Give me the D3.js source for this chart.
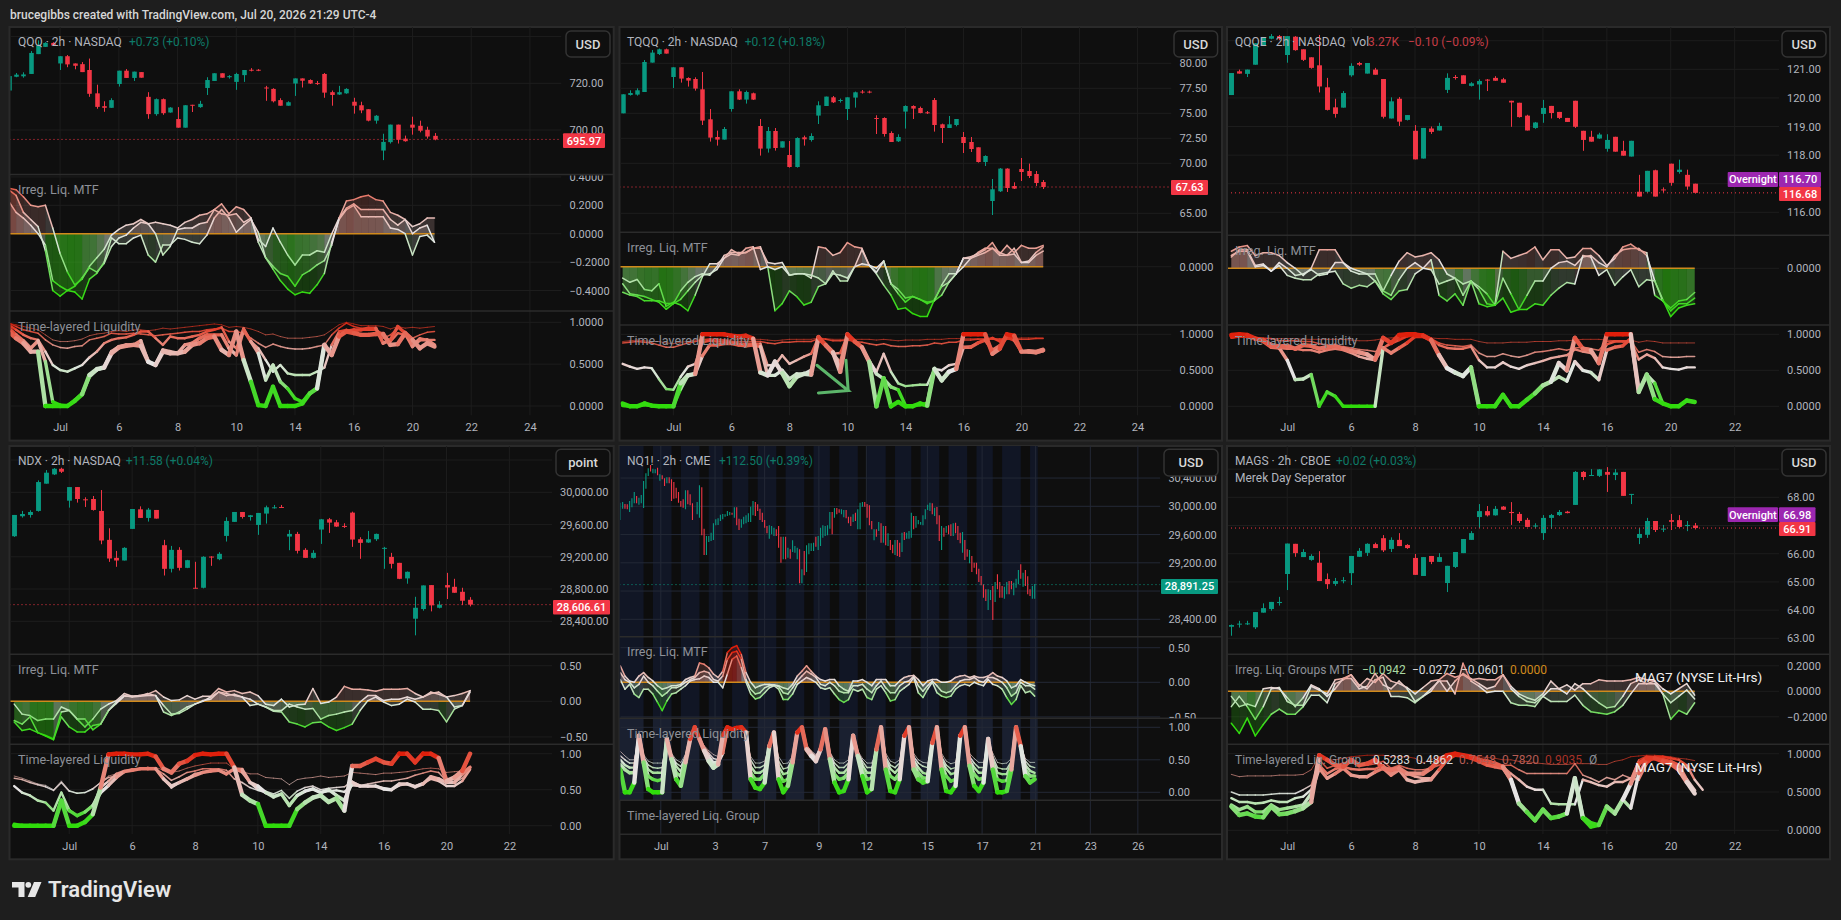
<!DOCTYPE html>
<html><head><meta charset="utf-8">
<style>html,body{margin:0;background:#1e1e1e;overflow:hidden}svg{display:block}text{font-family:Roboto,"Liberation Sans",sans-serif}</style>
<script src="https://cdn.jsdelivr.net/npm/d3@7"></script></head><body><svg id="c" width="1841" height="920"></svg>
<script>
// OHLC rows [open, high, low, close]
const qqqBars=[[716.9,723.1,716.9,723.1],[722.8,724.4,722.6,723.7],[723,724.7,722.4,723.8],[724,733.8,724,733],[732.5,738.4,732.5,736.2],[735.6,737.6,735.6,737.3],[737.3,737.6,736.2,736.2],[728.5,731.6,725.7,731.6],[731.6,732.1,726.9,728.1],[728.5,728.5,726,727.5],[728.2,729.1,724.8,724.8],[725.7,730.6,714.2,715.5],[715.7,719.4,709.1,709.9],[710.2,712.3,707.8,709.5],[709.5,713.6,709.5,712.8],[719.7,725.4,718.6,725.4],[725.4,726.1,722.3,722.3],[722.3,725,721,725],[724.8,724.8,722.4,722.4],[714.2,716.2,704.8,706.8],[706.8,713.5,706.1,713.2],[713.2,713.5,706.5,707.2],[707.5,709.8,707.4,709.6],[704.7,709.8,701,701],[701,710.6,701,710.6],[710.8,710.8,707.7,710.6],[709.8,712.5,709.5,711.2],[718,722.6,715,721.4],[721,724.3,721,724.3],[724.3,724.3,722.4,722.4],[722.6,723.5,722,723.1],[720.6,724.5,717.2,724],[723.5,725.7,720.6,725.7],[725.8,726.5,725.1,725.4],[725.8,726.1,725.2,725.4],[718.2,718.9,712.5,717.9],[717.6,717.9,711.8,712.3],[712.8,713.6,710.4,710.4],[710.4,712.3,710.4,711.9],[719.9,722.1,714.6,722.1],[722.1,722.1,718.2,721.1],[721.4,721.7,719.7,719.9],[720.1,721,719.3,719.9],[724,724.4,713.8,716],[716.2,716.9,710.4,715],[715.2,718.9,715,716.2],[715.7,717.9,715.5,717.6],[712.1,713.8,707,710.4],[710.6,712.1,707.2,708.4],[708.9,708.9,703.7,704],[704,706.4,702.7,706.1],[691.2,698.4,687.1,694.9],[694.8,702.3,694.2,702.3],[702.3,702.3,694.2,695.8],[696.3,697.6,695,695.2],[702.3,705.7,698,701],[701.8,704,699,699.7],[700.1,701.4,696.3,697.2],[697.5,698.7,695.6,695.97]];
const tqqqBars=[[75,76.9,75,76.9],[76.83,77.3,76.77,77.03],[76.87,77.5,76.77,77.3],[77.13,80.33,77.13,80.13],[80.07,81.33,80.07,81.07],[80.93,81.47,80.83,81.4],[81.4,81.47,80.97,80.97],[78.63,79.6,77.53,79.6],[79.6,79.6,78.07,78.47],[78.53,78.6,77.67,78.27],[78.43,78.6,77.27,77.47],[77.4,79.13,73.83,74.27],[74.4,75.43,72.17,72.57],[72.63,73.27,71.77,72.37],[72.37,73.63,72.37,73.43],[75.43,77.2,75.17,77.2],[77.2,77.4,76.33,76.37],[76.37,77.27,75.97,77.13],[77,77.07,76.33,76.37],[73.73,74.43,70.77,71.47],[71.47,73.63,71.07,73.23],[73.23,73.53,71.27,71.53],[71.57,72.2,71.57,72.2],[70.83,72.23,69.57,69.63],[69.63,72.6,69.57,72.53],[72.6,72.77,71.77,72.4],[72.33,73,72.17,72.73],[74.77,76.2,73.93,75.8],[75.73,76.67,75.73,76.67],[76.6,76.73,76.03,76.1],[76.23,76.47,76.07,76.33],[75.43,76.6,74.33,76.6],[76.57,77.17,75.57,77.1],[77.17,77.33,76.97,77.07],[77.17,77.27,77,77.1],[74.53,74.8,72.93,74.47],[74.53,74.6,72.67,72.93],[73.03,73.2,72.13,72.13],[72.2,72.9,72.13,72.63],[75.17,75.8,73.47,75.73],[75.73,75.8,74.43,75.47],[75.53,75.67,75,75.03],[75.1,75.23,74.93,75.03],[76.33,76.53,73.17,73.83],[73.9,73.97,72.03,73.53],[73.53,74.73,73.53,73.9],[73.83,74.43,73.7,74.43],[72.63,73.13,71.03,72.03],[72.13,72.63,71.13,71.43],[71.6,71.6,70.07,70.13],[70.13,70.8,69.73,70.73],[66.23,68.43,64.83,67.4],[67.2,69.53,67.13,69.47],[69.47,69.5,67.13,67.53],[67.73,68.1,67.43,67.47],[69.43,70.53,68.23,69.13],[69.23,69.97,68.53,68.73],[68.93,69.23,67.73,68.03],[68.13,68.33,67.43,67.63]];
const qqqeBars=[[120.1,120.87,120.1,120.87],[120.93,120.99,120.85,120.85],[120.84,120.99,120.73,120.99],[121.16,121.91,121.16,121.91],[121.84,122.12,121.84,122.12],[122.07,122.23,122.05,122.16],[122.16,122.2,122.02,122.08],[121.5,122.16,121.23,122.16],[122.14,122.16,121.65,121.67],[121.7,121.7,121.29,121.33],[121.42,121.42,121.02,121.05],[121.14,122.2,120.19,120.4],[120.37,120.7,119.56,119.58],[119.67,119.97,119.31,119.44],[119.66,120.24,119.66,120.17],[120.79,121.21,120.74,121.12],[121.22,121.26,121.12,121.16],[120.85,121.22,120.85,121.22],[120.99,121.05,120.81,120.81],[120.66,120.66,119.28,119.34],[119.28,120.02,119.28,119.88],[119.97,120.03,119.02,119.17],[119.23,119.4,119.21,119.4],[118.85,119.05,117.85,117.85],[117.88,118.95,117.88,118.95],[118.93,119,118.74,118.81],[118.86,119.13,118.86,119.02],[120.28,120.86,120.17,120.7],[120.73,120.8,120.64,120.7],[120.79,120.79,120.49,120.49],[120.42,120.55,120.4,120.51],[120.47,120.65,119.94,120.59],[120.64,120.66,120.24,120.62],[120.7,120.76,120.6,120.6],[120.65,120.7,120.53,120.53],[119.9,119.9,118.99,119.84],[119.83,119.83,119.31,119.33],[119.38,119.41,118.86,118.86],[118.95,119.16,118.92,119.14],[119.44,119.93,119.13,119.65],[119.72,119.72,119.28,119.47],[119.51,119.51,119.26,119.3],[119.3,119.3,119.16,119.16],[119.9,119.9,118.95,118.99],[118.85,118.85,118.15,118.53],[118.64,118.85,118.47,118.47],[118.58,118.78,118.57,118.72],[118.22,118.73,118.12,118.53],[118.64,118.64,118.12,118.12],[118.15,118.5,117.98,117.98],[117.95,118.5,117.95,118.5],[116.72,117.31,116.55,116.55],[116.72,117.45,116.69,117.45],[117.47,117.49,116.55,116.55],[116.8,116.87,116.69,116.78],[117.7,117.7,116.93,117.03],[117.41,117.84,117.35,117.49],[117.31,117.49,116.79,116.9],[117,117,116.66,116.68]];
const ndxBars=[[29455,29719,29447,29719],[29703,29769,29686,29731],[29719,29777,29686,29756],[29769,30148,29760,30127],[30107,30276,30107,30243],[30222,30301,30214,30292],[30292,30305,30239,30255],[29896,30065,29810,30065],[30065,30065,29872,29917],[29913,29938,29818,29909],[29917,29954,29773,29781],[29769,30028,29356,29402],[29410,29554,29137,29179],[29187,29273,29076,29154],[29154,29319,29154,29311],[29546,29793,29546,29793],[29789,29826,29682,29682],[29682,29806,29637,29785],[29781,29781,29674,29674],[29344,29410,28968,29051],[29051,29335,29006,29286],[29286,29319,29030,29063],[29063,29162,29059,29158],[28816,29138,28808,28813],[28816,29207,28808,29200],[29203,29207,29088,29191],[29170,29257,29158,29237],[29459,29690,29389,29645],[29633,29756,29633,29756],[29756,29756,29674,29694],[29694,29719,29649,29715],[29595,29744,29472,29744],[29736,29835,29612,29814],[29814,29843,29798,29814],[29818,29843,29806,29810],[29451,29533,29282,29484],[29484,29509,29241,29274],[29286,29307,29187,29187],[29187,29282,29179,29249],[29538,29670,29360,29665],[29665,29682,29496,29624],[29628,29657,29570,29575],[29583,29616,29558,29575],[29748,29760,29323,29414],[29418,29443,29175,29373],[29377,29521,29372,29418],[29418,29488,29397,29484],[29311,29323,29051,29311],[29199,29249,29055,29113],[29125,29125,28923,28927],[28932,29018,28866,29014],[28432,28704,28226,28568],[28552,28845,28532,28845],[28849,28849,28523,28598],[28568,28651,28560,28606],[28849,29001,28676,28820],[28828,28927,28754,28754],[28766,28816,28601,28655],[28667,28700,28585,28606.61]];
const magsBars=[[63.41,63.49,63.09,63.47],[63.49,63.62,63.38,63.52],[63.51,63.62,63.47,63.53],[63.39,63.93,63.33,63.93],[63.91,64.24,63.91,64.07],[64.04,64.29,63.98,64.29],[64.25,64.47,64.16,64.29],[65.28,66.36,64.71,66.36],[66.35,66.35,65.89,66.02],[65.88,66.16,65.88,66.06],[65.78,65.98,65.75,65.92],[65.68,66.09,65.03,65.03],[65.1,65.3,64.75,64.92],[64.93,65.14,64.86,65.03],[65.04,65.17,64.95,65.06],[65.31,65.92,64.89,65.92],[65.89,66.2,65.89,66.1],[66.03,66.37,65.92,66.35],[66.34,66.39,66.2,66.2],[66.55,66.66,66.06,66.12],[66.17,66.58,66.06,66.49],[66.49,66.73,66.27,66.27],[66.31,66.34,66.17,66.2],[65.85,65.99,65.25,65.25],[65.21,65.88,65.21,65.88],[65.92,65.92,65.63,65.71],[65.71,66.02,65.71,65.88],[64.96,65.57,64.64,65.57],[65.53,66.06,65.49,66.06],[66.02,66.52,66.02,66.52],[66.49,66.8,66.49,66.73],[67.3,67.76,66.9,67.51],[67.51,67.69,67.32,67.36],[67.36,67.69,67.35,67.59],[67.67,67.69,67.55,67.56],[67.48,67.83,67.02,67.44],[67.41,67.48,67.09,67.16],[67.2,67.27,66.95,66.95],[66.98,67.08,66.9,67],[66.73,67.37,66.49,67.27],[67.27,67.41,66.88,67.37],[67.37,67.55,67.34,67.48],[67.49,67.52,67.43,67.44],[67.73,68.93,67.73,68.9],[68.9,68.93,68.61,68.72],[68.77,69,68.76,68.79],[68.76,69,68.72,68.99],[68.9,69.07,68.19,68.8],[68.79,69,68.61,68.88],[68.9,68.9,68.05,68.05],[68.09,68.12,67.76,68.12],[66.56,66.91,66.34,66.7],[66.67,67.27,66.56,67.16],[67.16,67.16,66.77,66.84],[66.87,67.02,66.77,66.89],[67.19,67.41,66.84,67.13],[67.19,67.37,66.91,66.95],[66.98,67.16,66.8,67.02],[67,67.09,66.86,66.91]];
// NQ1! 2h bars are hair-thin, so open and close span the whole mark
const nqO=[29806,29967,30033,30028,29919,29986,30042,30146,30023,30042,29976,30250,30429,30585,30467,30467,30547,30363,30439,30396,30325,30410,30382,30344,30264,30203,30075,30099,29957,30226,30170,30042,29806,29886,29839,30269,29683,29311,29495,29509,29523,29731,29735,29792,29816,29853,29863,29872,29910,29839,29986,29825,29698,29745,29759,29778,29778,29872,30061,30028,29967,29910,29806,29721,29542,29603,29580,29674,29721,29570,29249,29570,29273,29391,29353,29344,29249,29391,28909,29367,29070,29320,29367,29367,29570,29381,29438,29556,29580,29589,29683,29919,29839,29976,29957,29886,29844,29948,29853,29853,29778,29910,29674,29674,29995,30061,30033,30014,29792,29518,29674,29650,29759,29485,29721,29438,29523,29457,29311,29523,29485,29353,29636,29542,29542,29556,29863,29698,29745,29740,29731,29816,29948,29934,30042,29863,29990,29872,29381,29698,29627,29731,29745,29580,29768,29721,29627,29344,29523,29391,29193,29296,29202,29202,29117,29013,28895,28824,28532,28673,28872,28645,29037,28928,28872,28692,28754,28942,28942,28739,28848,28895,29178,28862,29098,29010,28824,28692,28692];
const nqC=[30052,30061,29967,29957,30075,30113,30203,30042,30122,30160,30358,30467,30538,30491,30533,30524,30439,30453,30382,30288,30410,30325,30075,30108,30113,30052,29995,29981,30226,30028,30014,29806,29806,30061,30297,29589,29311,29580,29580,29627,29759,29816,29830,29882,29891,29886,29934,29919,29882,29986,29731,29665,29816,29853,29872,29901,29995,30075,29863,29934,29806,29778,29698,29617,29731,29721,29698,29580,29414,29202,29570,29249,29414,29259,29518,29438,29414,28909,29108,29023,29447,29476,29476,29485,29429,29580,29698,29731,29721,29731,29919,29603,29976,29886,29910,29957,29948,29830,29759,29721,29886,29792,29957,30052,30061,29995,29839,29731,29674,29674,29570,29778,29485,29721,29447,29617,29381,29334,29523,29296,29282,29627,29523,29627,29650,29910,29674,29863,29806,29778,29872,29957,30023,30052,29886,29981,29745,29509,29721,29570,29721,29603,29580,29759,29617,29523,29476,29636,29240,29287,29381,29070,29131,29037,28928,28881,28706,28659,28824,28815,28390,28928,28824,28706,28706,28862,28928,28754,28824,28919,28975,29098,28975,29060,28872,28754,28730,28872,28900];
// Irregular liquidity oscillator
const qqqOsc=[[.32,.31,.26,.20,.19,.20,.04,-.14,-.27,-.36,-.32,-.23,-.17,-.11,-.01,.03,.06,.07,.10,.07,.08,.07,.06,.04,.08,.10,.13,.14,.17,.21,.14,.19,.17,.11,-.04,-.09,.04,-.06,-.15,-.22,-.15,-.15,-.12,-.13,0,.11,.23,.24,.26,.27,.24,.23,.15,.13,.10,.05,.07,.11,.11],
[.31,.27,.15,.10,.05,-.12,-.40,-.44,-.40,-.41,-.46,-.32,-.28,-.20,-.03,-.07,-.07,-.03,-.01,-.15,-.20,-.08,-.08,-.03,-.04,-.06,-.07,-.01,.11,.17,.11,.01,.06,.10,.01,-.17,-.25,-.33,-.39,-.43,-.41,-.42,-.36,-.28,-.06,.10,.17,.20,.12,.12,.12,.12,.04,.03,0,-.15,-.02,-.01,-.06],
[.23,.15,.11,.06,0,-.08,-.33,-.37,-.40,-.37,-.31,-.24,-.27,-.21,-.09,-.03,-.01,.04,.08,.07,0,-.15,-.09,.03,.04,.04,.07,.08,.17,.14,.13,.14,.08,.11,-.06,-.17,-.23,-.28,-.30,-.37,-.29,-.26,-.22,-.19,-.08,.11,.18,.21,.17,.17,.17,.17,.10,.06,.10,0,.04,.06,-.06]];
const tqqqOsc=[[-.08,-.11,-.09,-.16,-.17,-.12,-.28,-.25,-.27,-.31,-.20,-.07,.02,.02,.06,.12,.09,.10,.13,.13,.03,.02,.03,-.06,-.05,-.05,-.08,.14,.13,.08,.10,.17,.14,.13,.01,-.04,.04,-.12,-.16,-.22,-.21,-.23,-.25,-.24,-.20,-.11,-.05,.06,.07,.09,.12,.17,.09,.15,.10,.15,.13,.13,.15],
[-.18,-.20,-.21,-.24,-.24,-.24,-.26,-.26,-.17,-.11,-.07,-.05,-.06,0,.08,.10,.10,.10,.13,.14,0,-.31,-.26,-.17,-.21,-.27,-.25,-.14,-.12,-.05,-.06,-.08,0,.02,.01,-.05,-.13,-.20,-.30,-.29,-.33,-.35,-.35,-.23,-.14,-.11,-.05,0,.06,.08,.10,.13,.08,.08,.09,.03,.03,.08,.11],
[-.12,-.19,-.20,-.21,-.23,-.25,-.30,-.26,-.23,-.17,-.11,-.06,-.05,-.02,.06,.09,.08,.13,.14,-.02,0,-.02,0,-.06,-.05,-.05,-.06,-.08,-.12,-.03,-.10,-.10,0,.12,.01,-.01,.04,-.12,-.19,-.25,-.21,-.23,-.26,-.24,-.13,-.05,-.05,.06,.06,.10,.13,.13,.10,.08,.13,.03,.04,.10,.14]];
const qqqeOsc=[[.12,.15,.16,.09,.11,.11,.09,.04,0,-.05,0,.13,.13,.13,.04,0,-.02,-.04,-.04,-.16,-.05,.05,.11,.08,.09,.11,.06,-.04,-.07,-.11,-.09,-.13,-.18,-.26,.12,.07,.09,.11,.15,.06,.13,.13,.07,.08,.14,.14,.09,.02,.07,.15,.17,.13,.11,-.19,-.23,-.28,-.23,-.22,-.17],
[.08,.13,.13,.02,.03,-.02,.04,0,-.05,-.04,-.01,-.05,-.04,.04,.04,-.02,-.04,-.04,-.09,-.16,-.19,-.08,0,.04,0,.06,-.19,-.23,-.18,-.26,-.09,-.15,-.25,-.26,-.07,-.18,-.29,-.19,-.09,-.09,0,.04,.05,.02,.08,.09,.04,.01,.09,.13,.14,.14,.09,-.09,-.23,-.30,-.25,-.25,-.21],
[.09,.12,.12,.01,.02,-.02,.02,-.05,-.07,-.08,-.08,-.04,-.03,-.02,-.11,-.14,-.12,-.13,-.09,-.18,-.22,-.16,-.15,-.04,0,-.01,-.11,-.09,-.07,-.19,-.09,-.25,-.27,-.26,-.21,-.31,-.29,-.29,-.25,-.26,-.19,-.14,-.10,-.11,.09,.08,-.05,-.01,-.12,-.06,-.01,-.13,-.08,-.09,-.22,-.34,-.28,-.26,-.25]];
const ndxOsc=[[-.04,-.18,-.2,-.27,-.25,-.25,-.08,-.13,-.25,-.36,-.25,-.11,-.04,.01,.11,.07,.08,.1,.15,.06,.01,.02,.08,.03,.07,.07,.18,.13,.15,.11,.13,.08,-.04,-.06,.03,-.08,-.05,-.04,.18,-.03,-.01,.06,.21,.17,.17,.16,.14,.17,.17,.17,.18,.11,.06,.11,.13,.06,.08,.11,.15],
[-.27,-.32,-.22,-.44,-.48,-.53,-.15,-.13,-.25,-.25,-.4,-.32,-.13,-.01,.08,.06,.07,.08,.08,-.15,-.2,-.15,-.08,-.04,.01,.03,.13,.08,.1,.06,.03,-.04,-.08,-.14,-.15,-.29,-.32,-.36,-.3,-.29,-.36,-.41,-.37,-.32,-.13,.01,.06,-.01,-.06,-.04,.03,-.01,-.11,-.11,-.13,-.29,-.11,-.06,.15],
[-.29,-.41,-.39,-.44,-.49,-.54,-.22,-.36,-.43,-.43,-.34,-.32,-.13,-.03,.07,.07,.08,.11,.08,-.06,-.18,-.17,-.11,-.04,0,.06,.13,.11,.08,.06,-.06,-.04,-.08,-.13,-.13,-.04,-.08,-.11,-.1,-.25,-.2,-.18,-.15,-.13,-.01,.08,.08,.01,.03,.03,.06,.03,.06,.13,.1,.06,-.08,-.06,.13]];
const nqOsc=[[.04,-.10,-.03,-.17,-.22,-.10,-.10,-.17,-.29,-.41,-.27,-.17,-.15,-.10,-.05,.02,.04,.05,.09,.07,0,0,-.08,.12,.33,.38,.21,0,-.17,-.24,-.22,-.15,-.08,-.05,-.10,-.25,-.25,-.17,-.03,.02,.07,.04,0,-.08,-.10,-.08,-.17,-.25,-.29,-.25,-.10,-.13,-.10,-.22,-.25,-.10,-.05,-.15,-.27,-.25,-.13,-.08,-.03,.07,-.15,-.22,-.10,0,-.15,-.20,-.22,-.20,-.10,-.05,-.03,-.05,0,-.03,-.05,.04,-.03,-.05,-.10,-.22,-.32,-.25,-.05,-.15,-.13,-.20],
[.14,.04,0,-.08,-.03,.09,0,-.05,-.13,-.20,-.15,-.08,-.08,-.05,0,.04,.07,.14,.16,.14,.04,.02,.09,.33,.43,.45,.33,.04,-.10,-.17,-.15,-.08,-.05,-.04,-.06,-.15,-.17,-.08,.02,.09,.16,.12,.07,-.03,-.05,0,-.05,-.13,-.15,-.15,-.05,-.05,-.03,-.10,-.15,-.05,.02,-.08,-.15,-.15,-.05,0,.02,.09,-.05,-.13,-.05,.02,-.05,-.13,-.15,-.13,-.05,.02,.04,.04,.07,.02,0,.07,.07,.04,0,-.08,-.20,-.15,0,-.05,-.05,-.10],
[.24,.09,.02,0,.09,.14,.07,.02,-.05,-.10,-.08,-.05,-.05,-.03,.04,.07,.09,.28,.26,.21,.12,.07,.16,.43,.50,.53,.40,.14,0,-.08,-.05,-.03,-.03,-.04,-.05,-.08,-.10,-.03,.09,.16,.24,.16,.09,.04,.02,.04,.04,-.05,-.10,-.13,.02,.02,.04,0,-.05,.04,.04,.04,-.05,-.05,.02,.07,.09,.10,.04,-.05,.02,.04,.04,0,0,.02,.07,.09,.10,.07,.09,.07,.07,.09,.14,.09,.07,.02,-.08,-.05,.04,0,-.03,-.05]];
const magsOsc=[[-.25,-.33,-.21,-.35,-.26,-.18,-.14,-.18,-.18,-.12,-.03,-.03,-.09,.06,.09,.13,.05,.02,.09,.11,-.04,-.04,-.05,-.09,-.04,.02,.08,.08,-.02,.22,.08,.04,-.01,0,0,-.09,-.11,-.11,-.12,-.04,-.08,-.08,-.08,-.03,-.11,-.16,-.17,-.18,-.16,-.11,-.02,.06,.06,.08,-.02,-.22,-.15,-.18,-.09],
[-.12,-.04,-.12,-.22,-.12,.02,.03,-.08,-.11,-.11,.04,.01,-.02,.09,.10,.10,.02,.04,.14,.05,.02,.08,.02,-.08,-.04,0,.09,0,.08,.14,.10,.06,.02,.04,.13,.02,-.04,-.08,-.09,-.04,.02,.02,-.02,.06,.02,-.04,-.09,-.13,-.12,-.04,.06,.09,.06,.06,-.02,-.09,-.04,.01,-.06],
[-.04,-.12,-.10,-.12,.02,.03,.02,-.05,-.12,-.05,.05,.02,-.04,.02,.10,.13,.04,.10,.07,.14,.08,.06,.03,-.02,.03,.08,.09,.14,.11,.13,.09,.10,.09,.09,.13,.04,-.02,-.05,-.07,-.02,.08,.02,.05,.01,.06,.06,.09,.08,.08,.08,.09,.11,.09,.08,.02,-.02,.02,.06,-.03]];
// Time-layered liquidity, thin layer first
const qqqLiq=[[.99,.97,.95,.93,.91,.85,.79,.77,.77,.78,.80,.84,.86,.87,.89,.90,.89,.91,.91,.90,.91,.93,.92,.93,.94,.95,.96,.97,.98,.97,.94,.95,.94,.92,.89,.85,.86,.83,.81,.81,.81,.82,.83,.85,.91,.97,1,.98,.96,.96,.96,.95,.92,.95,.93,.94,.93,.94,.95],
[.99,.95,.91,.89,.87,.79,.73,.70,.69,.71,.72,.79,.81,.83,.87,.86,.86,.87,.86,.85,.84,.85,.86,.87,.88,.89,.89,.91,.92,.93,.89,.89,.87,.81,.75,.70,.74,.71,.69,.68,.68,.69,.71,.73,.85,.93,.99,.95,.93,.93,.93,.81,.85,.93,.89,.81,.85,.88,.89],
[.97,.91,.85,.81,.79,.65,.49,.43,.41,.45,.49,.58,.65,.75,.79,.81,.82,.85,.89,.89,.81,.73,.83,.81,.81,.83,.85,.89,.91,.94,.77,.69,.93,.77,.69,.55,.41,.49,.39,.37,.37,.37,.41,.46,.73,.89,.91,.89,.91,.91,.91,.85,.77,.87,.85,.73,.81,.79,.79],
[.93,.85,.78,.69,.78,.53,.05,.01,0,.07,.15,.35,.43,.46,.65,.71,.73,.73,.78,.53,.49,.67,.65,.63,.73,.75,.81,.85,.85,.85,.69,.61,.91,.77,.63,.31,.49,.29,.21,.09,.05,.15,.21,.73,.61,.85,.89,.91,.91,.93,.93,.75,.79,.95,.87,.71,.79,.79,.73],
[.89,.81,.75,.65,.65,0,0,0,0,.06,.14,.37,.44,.46,.63,.70,.72,.73,.72,.53,.49,.65,.63,.63,.65,.73,.75,.81,.83,.67,.61,.89,.55,.29,.01,0,.23,0,0,0,.03,.15,.21,.73,.61,.83,.89,.87,.85,.85,.86,.86,.73,.74,.87,.79,.69,.75,.71]];
const tqqqLiq=[[.9,.91,.92,.91,.9,.9,.88,.87,.89,.9,.92,.93,.94,.93,.93,.92,.93,.93,.93,.93,.92,.91,.92,.93,.93,.93,.93,.95,.94,.93,.93,.93,.93,.93,.93,.92,.93,.92,.91,.92,.92,.92,.93,.93,.93,.94,.94,.94,.94,.94,.94,.94,.94,.94,.94,.95,.95,.95,.95],
[.88,.89,.9,.89,.88,.85,.82,.82,.85,.88,.9,.92,.93,.93,.92,.9,.9,.9,.9,.9,.88,.87,.89,.89,.9,.9,.9,.94,.93,.91,.91,.92,.9,.89,.87,.85,.87,.84,.83,.83,.84,.84,.85,.88,.87,.89,.89,.92,.92,.93,.93,.93,.93,.93,.93,.93,.93,.94,.94],
[.59,.55,.52,.54,.53,.38,.24,.23,.41,.55,.59,.89,.91,.9,.9,.89,.87,.87,.87,.87,.57,.57,.71,.59,.64,.69,.73,.96,.84,.73,.74,.98,.89,.82,.64,.48,.73,.48,.32,.28,.29,.3,.3,.52,.5,.57,.59,.82,.83,.88,.92,.95,.9,.96,.94,.76,.78,.77,.8],
[.01,0,0,.02,.01,0,0,.01,.24,.43,.45,.7,.85,.85,.87,.87,.85,.84,.85,.83,.43,.43,.5,.38,.45,.45,.5,.94,.84,.73,.6,.98,.9,.82,.62,.45,.38,.27,.23,.01,.01,.02,.04,.52,.36,.48,.52,.82,.82,.88,.92,.78,.84,.96,.92,.76,.76,.75,.77],
[.04,0,0,.04,.01,0,0,0,.32,.43,.45,1,1,1,1,.98,.97,.98,.94,.47,.43,.62,.46,.28,.41,.45,.44,.96,.85,.75,.48,1,.9,.82,.62,0,.39,0,.06,0,0,.04,.01,.52,.36,.48,.52,1,1,1,1,.73,.8,1,.98,.76,.76,.75,.78]];
const qqqeLiq=[[.97,.97,.97,.96,.95,.94,.94,.94,.94,.93,.93,.93,.93,.93,.93,.92,.91,.91,.92,.94,.95,.96,.96,.97,.97,.95,.94,.94,.93,.93,.93,.9,.88,.88,.88,.89,.89,.89,.9,.9,.9,.91,.91,.92,.93,.93,.93,.92,.91,.91,.92,.89,.91,.9,.88,.88,.88,.88,.88],
[.95,.97,.98,.95,.94,.94,.91,.91,.91,.9,.9,.87,.85,.83,.83,.81,.79,.78,.76,.81,.9,.94,.99,1,.99,.94,.88,.85,.84,.83,.85,.74,.69,.69,.73,.7,.68,.71,.75,.76,.78,.8,.78,.81,.82,.8,.78,.9,.91,.91,.91,.75,.79,.76,.69,.68,.68,.69,.69],
[.95,.97,.97,.93,.9,.82,.81,.8,.8,.78,.78,.75,.78,.8,.78,.74,.69,.66,.64,.81,.87,.92,.97,1,1,.94,.85,.81,.8,.8,.83,.64,.54,.54,.61,.55,.52,.57,.6,.63,.67,.69,.71,.79,.76,.74,.65,.86,.9,.9,.9,.65,.72,.67,.54,.52,.51,.54,.54],
[.97,.98,.97,.94,.9,.82,.81,.64,.37,.38,.44,0,.2,.14,0,0,0,0,0,.81,.74,.81,.88,.97,.97,.92,.71,.53,.47,.42,.54,0,0,0,.16,0,0,.09,.18,.29,.34,.41,.35,.62,.5,.47,.37,.78,.82,.84,.94,.2,.44,.32,.04,0,0,.08,.06],
[.99,1,.99,.94,.92,.85,.83,.84,.8,.85,.84,.8,.82,.84,.8,.77,.75,.72,.65,.95,.88,.99,1,1,.98,.92,.71,.53,.47,.42,.54,0,0,0,.16,0,0,.09,.18,.29,.34,.6,.5,.95,.8,.78,.6,1,1,1,1,.2,.44,.1,.04,0,0,.08,.06]];
const ndxLiq=[[.69,.66,.62,.58,.56,.5,.62,.49,.45,.46,.52,.6,.69,.72,.76,.76,.79,.81,.81,.77,.74,.76,.8,.83,.85,.87,.87,.87,.79,.75,.72,.72,.67,.66,.65,.57,.64,.66,.67,.69,.67,.68,.69,.74,.73,.72,.71,.73,.73,.74,.75,.77,.79,.8,.79,.74,.75,.76,.83],
[.66,.64,.6,.57,.54,.49,.6,.48,.45,.46,.51,.6,.67,.69,.76,.76,.79,.81,.79,.72,.63,.68,.74,.76,.79,.79,.79,.77,.65,.6,.53,.49,.48,.44,.49,.38,.48,.53,.55,.5,.52,.53,.54,.62,.56,.58,.6,.62,.62,.64,.66,.7,.73,.76,.74,.62,.6,.66,.8],
[.55,.46,.42,.35,.32,.21,.46,.22,.14,.19,.28,.53,.62,.72,.76,.78,.79,.79,.79,.65,.53,.6,.65,.72,.74,.76,.77,.72,.79,.74,.6,.5,.46,.41,.44,.28,.42,.48,.51,.46,.48,.49,.47,.56,.55,.55,.55,.52,.5,.56,.58,.55,.59,.65,.62,.55,.55,.62,.78],
[.02,0,0,0,0,0,.35,.21,.14,.19,.28,.46,.56,.67,.75,.77,.79,.79,.79,.65,.55,.6,.65,.7,.74,.76,.77,.72,.79,.78,.6,.55,.46,.4,.44,.28,.42,.48,.51,.46,.5,.42,.35,.6,.55,.55,.55,.51,.5,.58,.58,.54,.58,.68,.65,.6,.6,.72,.81],
[0,0,0,0,0,0,.35,0,0,.05,.16,.53,.99,1,1,.99,.99,1,.96,.79,.74,.86,.9,.98,1,.99,1,1,.81,.43,.35,.3,0,0,0,0,.23,.32,.39,.42,.33,.38,.21,.83,.83,.88,.93,.88,.86,1,1,.88,1,1,.94,.62,.67,.76,1]];
const nqLiq=[[.63,.56,.5,.5,.82,.58,.48,.45,.45,.45,.75,.6,.5,.46,.58,.8,1,.8,.72,.64,.58,.55,.6,.96,.97,.99,1,.85,.55,.45,.45,.48,.72,.88,.55,.44,.45,.56,.88,1,.72,.64,.58,.66,.92,.62,.5,.45,.45,.5,.82,.64,.52,.45,.45,.66,1,.6,.48,.45,.5,.82,1,.6,.5,.46,.45,.72,1,.6,.48,.44,.46,.82,1,.6,.52,.46,.46,.78,.6,.46,.44,.45,.52,1,.72,.52,.46,.46],
[.56,.5,.45,.45,.85,.55,.42,.38,.37,.38,.78,.58,.45,.4,.55,.82,1,.82,.7,.6,.52,.5,.6,.97,.97,.99,1,.88,.5,.38,.38,.42,.72,.9,.48,.36,.38,.54,.9,1,.72,.62,.55,.66,.95,.6,.45,.38,.38,.45,.85,.62,.48,.38,.38,.66,1,.55,.42,.38,.45,.85,1,.55,.45,.4,.38,.75,1,.55,.42,.36,.38,.85,1,.55,.45,.38,.38,.8,.55,.38,.36,.36,.48,1,.72,.48,.4,.38],
[.5,.42,.38,.38,.87,.52,.35,.3,.3,.3,.8,.55,.4,.32,.52,.82,1,.82,.68,.56,.46,.48,.6,.97,.97,.99,1,.9,.4,.3,.3,.35,.72,.92,.4,.28,.3,.52,.92,1,.7,.6,.52,.66,.96,.58,.38,.3,.3,.38,.85,.6,.42,.3,.3,.66,1,.5,.36,.3,.38,.87,1,.5,.38,.3,.28,.76,1,.5,.36,.28,.3,.87,1,.5,.38,.3,.3,.82,.5,.3,.28,.28,.45,1,.72,.42,.33,.3],
[.43,.35,.3,.3,.87,.5,.25,.2,.18,.2,.82,.51,.3,.25,.5,.82,1,.82,.66,.52,.42,.46,.6,.97,.97,.99,1,.92,.3,.2,.2,.28,.72,.92,.3,.17,.2,.5,.92,1,.68,.58,.5,.66,.97,.55,.28,.2,.22,.3,.87,.58,.35,.2,.22,.66,1,.42,.25,.2,.3,.87,1,.42,.3,.22,.22,.76,1,.42,.25,.17,.2,.87,1,.45,.28,.2,.22,.82,.42,.2,.17,.18,.4,1,.71,.35,.25,.25],
[.35,0,0,.15,.87,.46,.05,0,0,0,.82,.51,.2,.1,.46,.82,1,.82,.64,.48,.38,.43,.87,1,.97,.99,1,.92,.2,.07,.05,.15,.71,.92,.2,0,.1,.46,.92,1,.66,.56,.48,.66,.97,.51,.15,0,.02,.2,.87,.56,.25,0,.05,.66,1,.35,.02,0,.2,.87,1,.35,.2,.15,.17,.76,1,.35,.02,0,.1,.87,1,.41,.1,.02,.15,.82,.35,0,0,.02,.35,1,.71,.25,.15,.2]];
const magsLiq=[[.73,.70,.71,.71,.71,.71,.72,.72,.72,.73,.79,.96,.92,.92,.94,.96,.97,.98,.98,.98,.96,.96,.96,.94,.88,.92,.96,.98,.98,.98,.97,.96,.95,.94,.92,.92,.90,.90,.88,.87,.86,.86,.86,.87,.87,.87,.86,.86,.90,.92,.96,.97,.98,.98,.97,.96,.94,.93,.91],
[.50,.46,.46,.46,.46,.47,.48,.48,.48,.53,.59,.92,.81,.85,.88,.90,.85,.85,.87,.90,.81,.85,.81,.79,.79,.81,.85,.94,.98,.98,.96,.94,.90,.87,.85,.85,.79,.74,.74,.74,.74,.74,.74,.87,.72,.68,.63,.69,.66,.72,.68,.92,.97,.96,.94,.90,.85,.81,.78],
[.42,.37,.37,.35,.36,.39,.37,.37,.42,.44,.53,.85,.74,.80,.83,.80,.79,.80,.80,.85,.74,.80,.74,.70,.68,.68,.79,.92,.98,.97,.94,.92,.90,.85,.83,.74,.66,.57,.53,.53,.35,.34,.34,.34,.66,.63,.59,.57,.63,.63,.68,.66,.87,.96,.96,.94,.92,.85,.66,.53],
[.33,.27,.31,.24,.24,.33,.27,.29,.31,.33,.48,.81,.68,.74,.81,.72,.70,.70,.76,.81,.72,.79,.66,.63,.65,.66,.79,.92,.98,.97,.94,.90,.85,.83,.81,.66,.35,.24,.13,.27,.16,.18,.22,.68,.18,.10,.07,.31,.22,.40,.29,.74,.92,.94,.92,.90,.85,.66,.52],
[.31,.20,.22,.18,.17,.31,.21,.22,.25,.29,.37,.98,.92,.85,.83,.92,.85,.87,.92,.81,.79,.81,.74,.74,.74,.81,.92,.98,1,.98,.96,.92,.90,.87,.83,.66,.35,.24,.13,.27,.16,.18,.22,.68,.16,.05,.07,.31,.22,.40,.61,.87,.94,.94,.90,.87,.79,.63,.48]];
// Tick values and labels
const xIdx59=[7,15,23,31,39,47,55,63,71];
const xLabels24=["Jul","6","8","10","14","16","20","22","24"];
const xLabels22=["Jul","6","8","10","14","16","20","22"];
const nqTickIdx=[17.4,40.7,62,85.3,105.7,131.9,155.4,178.4,201.9,222.3];
const nqTickLabels=["Jul","3","7","9","12","15","17","21","23","26"];
const nqDarkBars=[10,22,34,44,55,67,79,90,102,114,125,137,149,160,172];
const arrowIdx=[26.8,31.1,27],arrowVal=[.57,.22,.185],arrowIdx2=[30.8,31.1],arrowVal2=[.64,.22];
// grid lines, and the subset of them that carry a visible label
const qqqPrices=[740,720,700],qqqLabels=[720,700];
const tqqqPrices=[80,77.5,75,72.5,70,65],tqqqLabels=tqqqPrices;
const qqqePrices=[122,121,120,119,118,117,116],qqqeLabels=[121,120,119,118,116];
const ndxPrices=[30400,30000,29600,29200,28800,28400],ndxLabels=[30000,29600,29200,28800,28400];
const nqPrices=[30400,30000,29600,29200,28800,28400],nqLabels=[30400,30000,29600,29200,28400];
const magsPrices=[69,68,67,66,65,64,63],magsLabels=[68,66,65,64,63];

const UP="#089981",DN="#f23645",TXT="#b2b5be",GRID="#1d1d1d",DIV="#2b2b2b",PANEL="#0f0f0f";
const svg=d3.select("#c"),defs=svg.append("defs");
svg.append("rect").attr("width",1841).attr("height",920).attr("fill","#1e1e1e");
const liqColor=d3.scaleLinear().domain([0,.15,.3,.5,.7,.85,1]).range(["#2fdc0a","#45d82a","#a5e09a","#e6e6e6","#e8a096","#e5604e","#e01e0a"]).clamp(true);
const oscColor=(v,m)=>liqColor((v/m+1)/2);
let clipN=0;
function clip(x,y,w,h){const id="k"+(clipN++);defs.append("clipPath").attr("id",id).append("rect").attr("x",x).attr("y",y).attr("width",w).attr("height",h);return `url(#${id})`;}
function txt(g,x,y,s,fill,size,weight,anchor){return g.append("text").attr("x",x).attr("y",y).attr("dy",".35em").attr("fill",fill).attr("font-size",size||12).attr("font-weight",weight||400).attr("text-anchor",anchor||"start").text(s);}

function drawPanel(p){
 const g=svg.append("g");
 g.append("rect").attr("x",p.L).attr("y",p.T).attr("width",p.R-p.L).attr("height",p.B-p.T).attr("fill",PANEL).attr("stroke","#2a2a2a").attr("stroke-width",2);
 const x=d3.scaleLinear().domain([0,p.n-1]).range([p.x0,p.xEnd]);
 const axisTop=p.B-25, plotW=p.A-p.L;
 const panes=[[p.T,p.d1],[p.d1,p.d2],[p.d2,p.d3||axisTop]];
 if(p.bands){
  const cols=["#111625","#111625","#1a2030"];
  panes.forEach((pn,k)=>{
   g.append("rect").attr("x",p.L).attr("y",pn[0]).attr("width",x(p.n-1)+3-p.L).attr("height",pn[1]-pn[0]).attr("fill",cols[k]);
   p.bands.forEach(b=>g.append("rect").attr("x",x(b)).attr("y",pn[0]).attr("width",x(b+4)-x(b)).attr("height",pn[1]-pn[0]).attr("fill","#0d0d0d"));
  });
 }
 const yP=d3.scaleLinear().domain(p.pD).range(p.pR), yO=d3.scaleLinear().domain(p.oD).range(p.oR), yL=d3.scaleLinear().domain(p.lD).range(p.lR);
 const plotClip=clip(p.L+1,p.T,plotW-1,axisTop-p.T);
 const grid=g.append("g").attr("clip-path",plotClip);
 const ticksX=p.xTicks, gridCol=p.bands?"#232836":GRID;
 ticksX.forEach(t=>grid.append("line").attr("x1",x(t)).attr("x2",x(t)).attr("y1",p.T).attr("y2",axisTop).attr("stroke",gridCol));
 const hg=(sc,vals,t,b)=>vals.forEach(v=>{const yy=sc(v);if(yy>t&&yy<b)grid.append("line").attr("x1",p.L).attr("x2",p.A).attr("y1",yy).attr("y2",yy).attr("stroke",gridCol);});
 hg(yP,p.pT,p.T,p.d1);hg(yO,p.oT,p.d1,p.d2);hg(yL,p.lT,p.d2,p.d3||axisTop);
 [p.d1,p.d2,p.d3,p.d3?axisTop:null].filter(d=>d).forEach(d=>g.append("line").attr("x1",p.L).attr("x2",p.R).attr("y1",d).attr("y2",d).attr("stroke",DIV).attr("stroke-width",1.5));
 const pc=g.append("g").attr("clip-path",clip(p.L+1,p.T,plotW-1,p.d1-p.T));
 const bw=(x(1)-x(0))*p.bodyW;
 if(p.bars){
  p.bars.forEach((b,i)=>{const col=b[3]>=b[0]?UP:DN,cx=Math.round(x(i))+.5;
   pc.append("line").attr("x1",cx).attr("x2",cx).attr("y1",yP(b[1])).attr("y2",yP(b[2])).attr("stroke",col);
   const t=yP(Math.max(b[0],b[3])),h=Math.max(1,Math.abs(yP(b[0])-yP(b[3])));
   pc.append("rect").attr("x",cx-bw/2).attr("width",bw).attr("y",t).attr("height",h).attr("fill",col);});
 } else {
  p.O.forEach((o,i)=>{const c=p.C[i];pc.append("line").attr("x1",x(i)).attr("x2",x(i)).attr("y1",yP(o)).attr("y2",yP(c)).attr("stroke",c>=o?UP:DN).attr("stroke-width",1.1);});
 }
 pc.append("line").attr("x1",p.L).attr("x2",p.A).attr("y1",yP(p.last)).attr("y2",yP(p.last)).attr("stroke",p.lastCol).attr("stroke-dasharray","1 3");
 const oc=g.append("g").attr("clip-path",clip(p.L+1,p.d1,plotW-1,p.d2-p.d1));
 const st=p.stride||1, xi=i=>x(i*st);
 const area=d3.area().x(d=>xi(d[0])).y0(yO(0)).y1(d=>yO(d[1]));
 p.osc.forEach(s=>{for(let i=0;i<s.length-1;i++)oc.append("path").attr("d",area([[i,s[i]],[i+1,s[i+1]]])).attr("fill",oscColor(s[i+1],p.oM)).attr("fill-opacity",.2);});
 oc.append("line").attr("x1",p.L).attr("x2",x(p.n-1)).attr("y1",yO(0)).attr("y2",yO(0)).attr("stroke","#d08a1c").attr("stroke-width",1.6);
 const ol=d3.line().x(d=>xi(d[0])).y(d=>yO(d[1]));
 p.osc.forEach(s=>{for(let i=0;i<s.length-1;i++)oc.append("path").attr("d",ol([[i,s[i]],[i+1,s[i+1]]])).attr("fill","none").attr("stroke",oscColor((s[i]+s[i+1])/2,p.oM)).attr("stroke-width",1.5).attr("stroke-linecap","round");});
 const lc=g.append("g").attr("clip-path",clip(p.L+1,p.d2,plotW-1,(p.d3||axisTop)-p.d2));
 const ll=d3.line().x(d=>xi(d[0])).y(d=>yL(d[1]));
 const widths=[1,1.5,2.4,3.4,4.4],ops=[.65,.9,1,1,1];
 p.liq.forEach((s,k)=>{for(let i=0;i<s.length-1;i++)lc.append("path").attr("d",ll([[i,s[i]],[i+1,s[i+1]]])).attr("fill","none").attr("stroke",liqColor((s[i]+s[i+1])/2)).attr("stroke-opacity",ops[k]).attr("stroke-width",widths[k]).attr("stroke-linecap","round");});
 if(p.arrow)p.arrow.forEach(a=>{const l=d3.line().x(d=>x(d)).y((d,i)=>yL(a[1][i]));lc.append("path").attr("d",l(a[0])).attr("fill","none").attr("stroke","#5cb56a").attr("stroke-width",3).attr("stroke-linecap","round");});
 const yAxis=(sc,vals,fmt,t,b)=>{const ag=g.append("g").attr("transform",`translate(${p.A},0)`).attr("clip-path",clip(0,t,p.R-p.A,b-t)).call(d3.axisRight(sc).tickValues(vals).tickFormat(fmt).tickSize(0).tickPadding(8));ag.select(".domain").remove();ag.selectAll("text").attr("fill",TXT).attr("font-size",11).attr("font-family","Roboto,sans-serif");};
 yAxis(yP,p.pL,p.pF,p.T+1,p.d1);yAxis(yO,p.oT,p.oF,p.d1+1,p.d2);yAxis(yL,p.lT,p.oL,p.d2+1,p.d3||axisTop);
 const xa=g.append("g").attr("transform",`translate(0,${axisTop})`).attr("clip-path",clip(p.L+1,0,plotW,25)).call(d3.axisBottom(x).tickValues(ticksX).tickFormat((d,i)=>p.xLab[i]).tickSize(0).tickPadding(8));
 xa.select(".domain").remove();xa.selectAll("text").attr("fill",TXT).attr("font-size",11).attr("font-family","Roboto,sans-serif");
 p.legend.forEach(l=>txt(g,l[0],l[1],l[2],l[3],l[4]||12));
 g.append("rect").attr("x",p.btn[0]).attr("y",p.btn[1]).attr("width",p.btn[2]-p.btn[0]).attr("height",p.btn[3]-p.btn[1]).attr("rx",5).attr("fill",PANEL).attr("stroke","#333").attr("stroke-width",1.5);
 txt(g,(p.btn[0]+p.btn[2])/2,(p.btn[1]+p.btn[3])/2,p.btn[4],"#d8d8d8",13,500,"middle");
 p.tags.forEach(t=>{g.append("rect").attr("x",t[0]).attr("y",t[1]).attr("width",t[2]-t[0]).attr("height",t[3]-t[1]).attr("rx",1).attr("fill",t[5]);txt(g,(t[0]+t[2])/2,(t[1]+t[3])/2,t[4],"#fff",11,500,"middle");});
 return g;
}
const f2=d3.format(".2f"),fc=d3.format(",.2f"),f4=d3.format(".4f");
const G="#8d9097",GL="#0e7a68",RL="#c43c46",PL=12.6;
drawPanel({L:9.5,R:613.7,T:27,B:440.6,A:561.5,n:59,x0:8.7,xEnd:434.5,d1:174.5,d2:311,bodyW:.62,bars:qqqBars,last:695.97,lastCol:DN,
 pD:[720,700],pR:[83.3,130],pT:qqqPrices,pL:qqqLabels,pF:f2,oD:[0,.2],oR:[233.7,205.3],oT:[.4,.2,0,-.2,-.4],oF:f4,lD:[0,1],lR:[406,322.3],lT:[0,.5,1],oL:f4,oM:.45,osc:qqqOsc,liq:qqqLiq,
 xTicks:xIdx59,xLab:xLabels24,
 legend:[[18,41.7,"QQQ · 2h · NASDAQ",TXT],[129,41.7,"+0.73 (+0.10%)",GL],[18,190,"Irreg. Liq. MTF",G,PL],[18,327,"Time-layered Liquidity",G,PL]],
 btn:[566,31,610,57,"USD"],tags:[[563,133.3,605,148,"695.97",DN]]});
drawPanel({L:619.5,R:1222,T:27,B:440.6,A:1171.5,n:59,x0:622.65,xEnd:1043.2,d1:232.3,d2:325,bodyW:.62,bars:tqqqBars,last:67.63,lastCol:DN,
 pD:[70,65],pR:[163.3,213.3],pT:tqqqPrices,pL:tqqqLabels,pF:f2,oD:[0,1],oR:[266.7,124.7],oT:[0],oF:f4,lD:[0,1],lR:[406.3,334.3],lT:[0,.5,1],oL:f4,oM:.33,osc:tqqqOsc,liq:tqqqLiq,
 arrow:[[arrowIdx,arrowVal],[arrowIdx2,arrowVal2]],xTicks:xIdx59,xLab:xLabels24,
 legend:[[627,41.7,"TQQQ · 2h · NASDAQ",TXT],[744.8,41.7,"+0.12 (+0.18%)",GL],[627,247.7,"Irreg. Liq. MTF",G,PL],[627,340.7,"Time-layered Liquidity",G,PL]],
 btn:[1174,31,1217.6,57,"USD"],tags:[[1171,180,1208,195,"67.63",DN]]});
drawPanel({L:1227,R:1830,T:27,B:440.6,A:1779,n:59,x0:1231.3,xEnd:1694.7,d1:235.3,d2:325,bodyW:.62,bars:qqqeBars,last:116.68,lastCol:DN,
 pD:[121,116],pR:[69.3,212.3],pT:qqqePrices,pL:qqqeLabels,pF:f2,oD:[0,1],oR:[268.3,126.3],oT:[0],oF:f4,lD:[0,1],lR:[406.3,334.3],lT:[0,.5,1],oL:f4,oM:.33,osc:qqqeOsc,liq:qqqeLiq,
 xTicks:xIdx59.slice(0,8),xLab:xLabels22,
 legend:[[1235,41.7,"QQQE · 2h · NASDAQ",TXT],[1352,41.7,"Vol",TXT],[1368,41.7,"3.27K",RL],[1408,41.7,"−0.10 (−0.09%)",RL],[1235,250.7,"Irreg. Liq. MTF",G,PL],[1235,340.7,"Time-layered Liquidity",G,PL]],
 btn:[1782,31,1826,57,"USD"],tags:[[1779,172,1821,187,"116.70","#9c27b0"],[1779,187,1821,201,"116.68",DN],[1727.7,172,1778,187,"Overnight","#9c27b0"]]});
drawPanel({L:9.5,R:613.7,T:446,B:859.3,A:552,n:59,x0:14.2,xEnd:470.1,d1:654.3,d2:744.3,bodyW:.62,bars:ndxBars,last:28606.61,lastCol:DN,
 pD:[30000,28400],pR:[492.3,621.3],pT:ndxPrices,pL:ndxLabels,pF:fc,oD:[0,.5],oR:[701.3,665.7],oT:[.5,0,-.5],oF:f2,lD:[0,1],lR:[825.7,753.7],lT:[0,.5,1],oL:f2,oM:.5,osc:ndxOsc,liq:ndxLiq,
 xTicks:xIdx59.slice(0,8),xLab:xLabels22,
 legend:[[18,460.7,"NDX · 2h · NASDAQ",TXT],[125.7,460.7,"+11.58 (+0.04%)",GL],[18,670,"Irreg. Liq. MTF",G,PL],[18,760,"Time-layered Liquidity",G,PL]],
 btn:[556,449.3,610,476,"point"],tags:[[553,600,610,614.5,"28,606.61",DN]]});
drawPanel({L:619.5,R:1222,T:446,B:859.3,A:1160.4,n:nqO.length,x0:620.3,xEnd:1034.7,d1:636.7,d2:718.3,d3:800.3,bodyW:.6,O:nqO,C:nqC,last:28891.25,lastCol:UP,bands:nqDarkBars,stride:2,
 pD:[30000,28400],pR:[506.3,619.3],pT:nqPrices,pL:nqLabels,pF:fc,oD:[0,.5],oR:[682.3,647.7],oT:[.5,0,-.5],oF:f2,lD:[0,1],lR:[792.3,727.3],lT:[0,.5,1],oL:f2,oM:.45,osc:nqOsc,liq:nqLiq,
 xTicks:nqTickIdx,xLab:nqTickLabels,
 legend:[[627,460.7,"NQ1! · 2h · CME",TXT],[719,460.7,"+112.50 (+0.39%)",GL],[627,651.7,"Irreg. Liq. MTF",G,PL],[627,734,"Time-layered Liquidity",G,PL],[627,816,"Time-layered Liq. Group",G,PL]],
 btn:[1164,449.3,1218,476,"USD"],tags:[[1161,579,1218,594,"28,891.25",UP]]});
const mg=drawPanel({L:1227,R:1830,T:446,B:859.3,A:1779,n:59,x0:1231.3,xEnd:1694.7,d1:654.3,d2:744.3,bodyW:.62,bars:magsBars,last:66.91,lastCol:DN,
 pD:[68,63],pR:[497.3,638.3],pT:magsPrices,pL:magsLabels,pF:f2,oD:[0,.2],oR:[691.3,665.8],oT:[.2,0,-.2],oF:f4,lD:[0,1],lR:[830.3,753.7],lT:[0,.5,1],oL:f4,oM:.3,osc:magsOsc,liq:magsLiq,
 xTicks:xIdx59.slice(0,8),xLab:xLabels22,
 legend:[[1235,460.7,"MAGS · 2h · CBOE",TXT],[1336,460.7,"+0.02 (+0.03%)",GL],[1235,477.7,"Merek Day Seperator",TXT],[1235,669.7,"Irreg. Liq. Groups MTF",G],[1362,669.7,"−0.0942","#a9d8a2"],[1412,669.7,"−0.0272","#dcdcdc"],[1461,669.7,"−0.0601","#dcdcdc"],[1510,669.7,"0.0000","#d08a1c"],[1235,760,"Time-layered Liq. Group",G],[1373,760,"0.5283","#d8d8d8"],[1416,760,"0.4862","#d8d8d8"],[1459,760,"0.7548","#b65c54"],[1502,760,"0.7820","#b65c54"],[1545,760,"0.9035","#a83228"],[1589,760,"Ø",G]],
 btn:[1782,449.3,1826,476,"USD"],tags:[[1779,507.3,1815.5,522,"66.98","#9c27b0"],[1779,522,1815.5,536,"66.91",DN],[1727.7,507.3,1778,522,"Overnight","#9c27b0"]]});
txt(mg,1635,677,"MAG7 (NYSE Lit-Hrs)","#f0f0f0",13.6);
txt(mg,1635,767,"MAG7 (NYSE Lit-Hrs)","#f0f0f0",13.6);
txt(svg,10,15,"brucegibbs created with TradingView.com, Jul 20, 2026 21:29 UTC-4","#d6d6d6",12,500);
const wm=svg.append("g").attr("fill","#e6e6e6");
wm.append("path").attr("d","M12 882h12.5v15h-6v-9.5H12z");
wm.append("circle").attr("cx",28.3).attr("cy",884.8).attr("r",2.9);
wm.append("path").attr("d","M34 882h7.5l-6.3 15h-7.5z");
txt(wm,48,889,"TradingView","#e6e6e6",22,600);
</script></body></html>
